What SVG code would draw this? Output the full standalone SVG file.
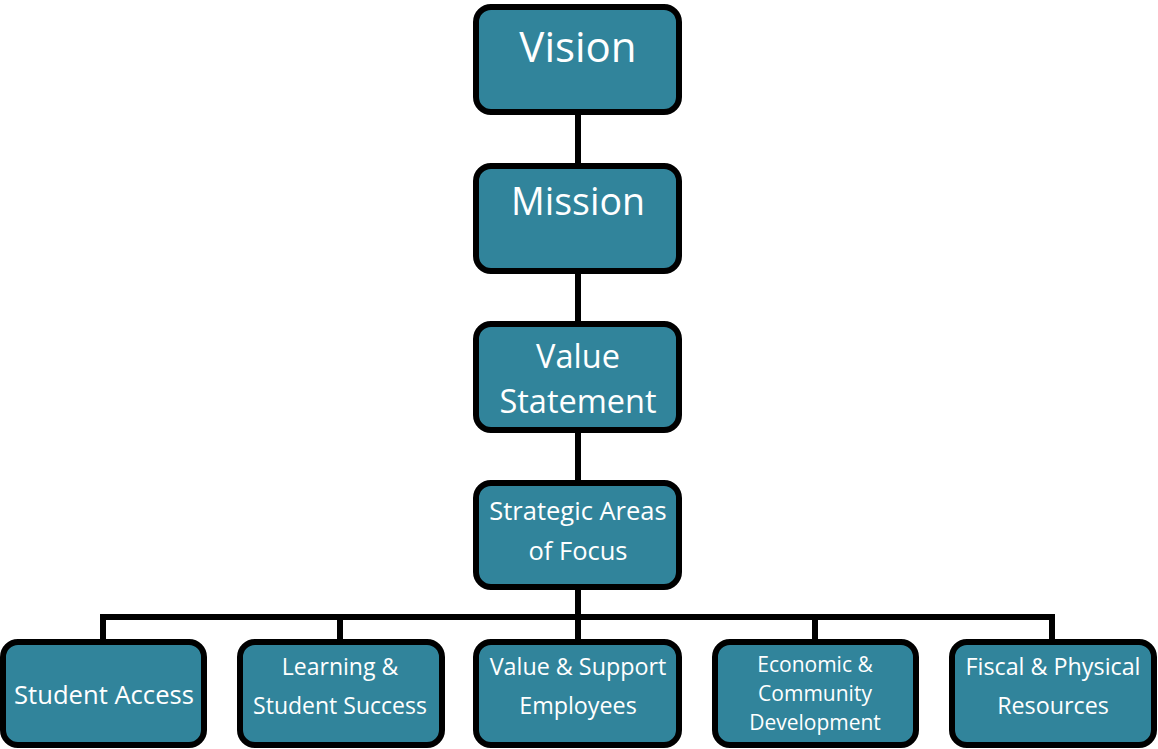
<svg xmlns="http://www.w3.org/2000/svg" width="1158" height="749" viewBox="0 0 1158 749">
<style>
.box{fill:#31849B;stroke:#000;stroke-width:6}
.t{fill:#fff;font-family:"Open Sans","Noto Sans",sans-serif;text-anchor:middle}
.c{fill:none;stroke:#000;stroke-width:6}
</style>
<rect width="1158" height="749" fill="#fff"/>
<g id="connectors">
<path class="c" d="M578 112V166M578 271V324M578 430V483M578 587V642"/>
<path class="c" d="M103 642V617H1052V642M340 617V642M815 617V642"/>
</g>
<g id="vision"><rect class="box" x="476" y="7" width="203" height="105" rx="15"/><text class="t" x="578" y="62" font-size="42">Vision</text></g>
<g id="mission"><rect class="box" x="476" y="166" width="203" height="105" rx="15"/><text class="t" x="578" y="215" font-size="37.5">Mission</text></g>
<g id="value"><rect class="box" x="476" y="324" width="203" height="106" rx="15"/><text class="t" x="578" y="368" font-size="32.5">Value</text><text class="t" x="578" y="413" font-size="32.5">Statement</text></g>
<g id="strategic"><rect class="box" x="476" y="483" width="203" height="104" rx="15"/><text class="t" x="578" y="520" font-size="25.5">Strategic Areas</text><text class="t" x="578" y="560" font-size="25.5">of Focus</text></g>
<g id="student-access"><rect class="box" x="3" y="642" width="201" height="103" rx="15"/><text class="t" x="104" y="704" font-size="25.6">Student Access</text></g>
<g id="learning"><rect class="box" x="240" y="642" width="202" height="103" rx="15"/><text class="t" x="340" y="675" font-size="23">Learning &amp;</text><text class="t" x="340" y="714" font-size="23">Student Success</text></g>
<g id="employees"><rect class="box" x="476" y="642" width="203" height="103" rx="15"/><text class="t" x="578" y="675" font-size="23.3">Value &amp; Support</text><text class="t" x="578" y="714" font-size="23.3">Employees</text></g>
<g id="economic"><rect class="box" x="715" y="642" width="201" height="103" rx="15"/><text class="t" x="815" y="672" font-size="21">Economic &amp;</text><text class="t" x="815" y="701" font-size="21">Community</text><text class="t" x="815" y="730" font-size="21">Development</text></g>
<g id="fiscal"><rect class="box" x="952" y="642" width="202" height="103" rx="15"/><text class="t" x="1053" y="675" font-size="23.3">Fiscal &amp; Physical</text><text class="t" x="1053" y="714" font-size="23.3">Resources</text></g>
</svg>
